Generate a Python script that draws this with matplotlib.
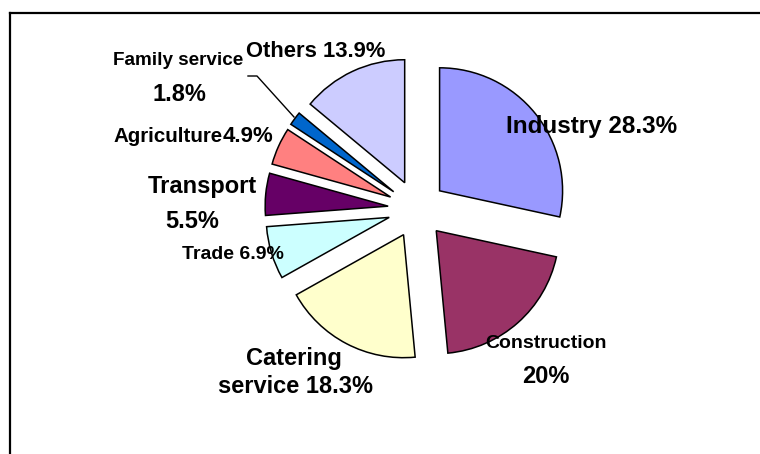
import matplotlib
matplotlib.use("Agg")
import matplotlib.pyplot as plt

plt.rcParams["font.family"] = ["Liberation Sans", "DejaVu Sans"]
plt.rcParams["font.weight"] = "bold"

# sector shares (%), clockwise from 12 o'clock
categories = ["Industry", "Construction", "Catering service", "Trade",
              "Transport", "Agriculture", "Family service", "Others"]
values = [28.3, 20, 18.3, 6.9, 5.5, 4.9, 1.8, 13.9]
colors = ["#9999FF", "#993366", "#FFFFCC", "#CCFFFF",
          "#660066", "#FF8080", "#0066CC", "#CCCCFF"]

W, H = 760, 454

# label placement in image pixels: (slice, template, x, y_baseline, size, ha)
label_layout = [
    (0, "{n} {v}", 592, 133, 17.5, "center"),
    (1, "{n}", 546, 348, 14, "center"),
    (1, "{v}", 546, 383, 17, "center"),
    (2, "{n0}", 294, 365, 17, "center"),
    (2, "{n1} {v}", 295, 393, 17, "center"),
    (3, "{n} {v}", 233, 259, 14, "center"),
    (4, "{n}", 202, 193, 17, "center"),
    (4, "{v}", 192, 228, 17, "center"),
    (5, "{n}", 223, 142, 14.8, "right"),
    (5, "{v}", 223, 142, 16, "left"),
    (6, "{n}", 178, 65, 13.6, "center"),
    (6, "{v}", 179, 101, 17, "center"),
    (7, "{n} {v}", 316, 57, 15.8, "center"),
]

fig = plt.figure(figsize=(W / 100, H / 100), dpi=100)
ax = fig.add_axes([0, 0, 1, 1])

ax.pie(values, colors=colors, explode=[29] * len(values), radius=123,
       center=(417, H - 209), startangle=90, counterclock=False,
       wedgeprops=dict(edgecolor="black", linewidth=1.1), frame=False)
ax.set_xlim(0, W)
ax.set_ylim(0, H)
ax.axis("off")

for idx, tmpl, x, y, size, ha in label_layout:
    name = categories[idx]
    words = name.split()
    txt = tmpl.format(n=name, n0=words[0], n1=words[-1], v=f"{values[idx]:g}%")
    ax.text(x, H - y, txt, fontsize=size, fontweight="bold", ha=ha,
            va="baseline", color="black")

# leader line for the small family service slice
ax.plot([248, 257, 294], [H - 76, H - 76, H - 117], color="black", lw=1)

# chart area border (top and left visible)
ax.plot([9.5, W + 5], [H - 13, H - 13], color="black", lw=1.6, clip_on=False)
ax.plot([9.5, 9.5], [H - 13, -5], color="black", lw=1.6, clip_on=False)

fig.savefig("out.png", dpi=100)
